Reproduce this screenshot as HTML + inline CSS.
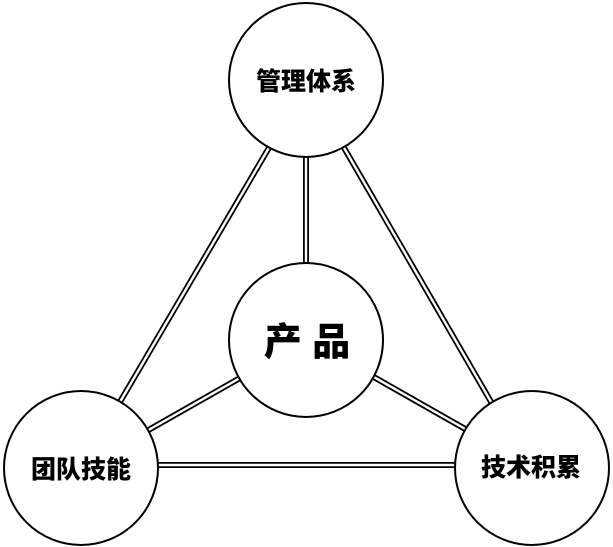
<!DOCTYPE html>
<html><head><meta charset="utf-8"><style>
html,body{margin:0;padding:0;background:#fff;}
svg{display:block;}
text{font-family:"Liberation Sans","Noto Sans CJK SC",sans-serif;font-weight:900;fill:#000;text-anchor:middle;dominant-baseline:central;}
</style></head><body>
<svg width="613" height="547" viewBox="0 0 613 547" xmlns="http://www.w3.org/2000/svg">
<g stroke="#000" stroke-width="6" fill="none">
<line x1="270" y1="146" x2="117" y2="407"/>
<line x1="343" y1="146" x2="494" y2="407"/>
<line x1="306" y1="155" x2="306" y2="265"/>
<line x1="240" y1="378" x2="145" y2="432"/>
<line x1="372" y1="376" x2="467" y2="430"/>
<line x1="155" y1="465" x2="457" y2="465"/>
</g>
<g stroke="#fff" stroke-width="2.4" fill="none">
<line x1="270" y1="146" x2="117" y2="407"/>
<line x1="343" y1="146" x2="494" y2="407"/>
<line x1="306" y1="155" x2="306" y2="265"/>
<line x1="240" y1="378" x2="145" y2="432"/>
<line x1="372" y1="376" x2="467" y2="430"/>
<line x1="155" y1="465" x2="457" y2="465"/>
</g>
<g stroke="#000" stroke-width="2" fill="#fff">
<circle cx="306" cy="80" r="77"/>
<circle cx="306" cy="340" r="77"/>
<circle cx="81" cy="468" r="77"/>
<circle cx="532" cy="468" r="77"/>
</g>
<text x="306" y="82" font-size="25">管理体系</text>
<text x="307" y="343" font-size="38">产 品</text>
<text x="81" y="470" font-size="25">团队技能</text>
<text x="531" y="468" font-size="25">技术积累</text>
</svg>
</body></html>
